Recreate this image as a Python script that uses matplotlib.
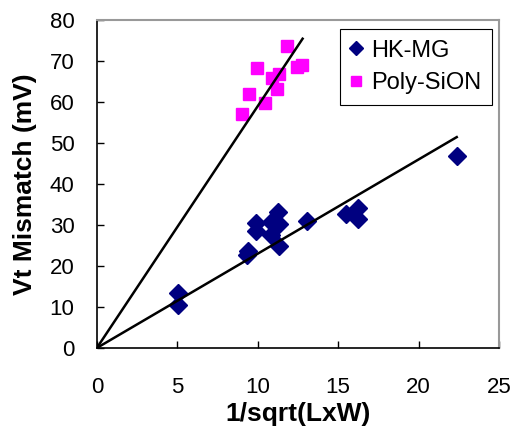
import numpy as np
import matplotlib as mpl
import matplotlib.pyplot as plt

mpl.rcParams["font.family"] = ["Liberation Sans", "DejaVu Sans"]

# HK-MG devices
hk_x = [5.02, 5.06, 9.41, 9.31, 9.89, 9.89, 10.8, 10.8, 11.28, 11.32, 11.32,
        13.04, 15.48, 16.25, 16.25, 22.37]
hk_y = [13.3, 10.5, 23.7, 22.7, 30.4, 28.6, 30.7, 27.6, 33.1, 30.2, 25.0,
        31.0, 32.6, 34.1, 31.4, 46.8]

# Poly-SiON devices
poly_x = [11.8, 9.93, 10.86, 11.32, 12.42, 12.73, 11.18, 9.45, 10.45, 9.04]
poly_y = [73.6, 68.4, 65.8, 66.8, 68.6, 69.0, 63.2, 62.0, 59.7, 57.2]

# Pelgrom fits through the origin (slope, x end)
hk_slope, hk_xend = 2.30, 22.37
poly_slope, poly_xend = 5.90, 12.79

fig = plt.figure(figsize=(5.15, 4.28), dpi=100)
ax = fig.add_axes([0.188, 0.187, 0.781, 0.766])

for slope, xend in [(hk_slope, hk_xend), (poly_slope, poly_xend)]:
    xs = np.array([0, xend])
    ax.plot(xs, slope * xs, color="black", lw=1.8, zorder=3)

ax.plot(hk_x, hk_y, ls="None", marker="D", ms=9.5, color="#000080",
        mec="#000080", label="HK-MG", zorder=2)
ax.plot(poly_x, poly_y, ls="None", marker="s", ms=8.5, color="#FF00FF",
        mec="#FF00FF", label="Poly-SiON", zorder=2)

ax.set_xlim(0, 25)
ax.set_ylim(0, 80)
ax.set_xticks(np.arange(0, 26, 5))
ax.set_yticks(np.arange(0, 81, 10))
ax.tick_params(direction="in", length=5, width=1, labelsize=16)
ax.tick_params(axis="y", pad=16)
ax.tick_params(axis="x", pad=21)

for side in ["top", "right"]:
    ax.spines[side].set_color("#999999")
    ax.spines[side].set_linewidth(1.5)
for side in ["left", "bottom"]:
    ax.spines[side].set_color("black")
    ax.spines[side].set_linewidth(1.2)

ax.set_xlabel("1/sqrt(LxW)", fontsize=19, fontweight="bold", labelpad=3)
ax.set_ylabel("Vt Mismatch (mV)", fontsize=19, fontweight="bold", labelpad=9)

leg = ax.legend(loc="upper right", bbox_to_anchor=(0.983, 0.973),
                fontsize=17, frameon=True, fancybox=False, framealpha=1,
                edgecolor="black", handlelength=0.5, handletextpad=0.4,
                borderpad=0.45, labelspacing=0.45, markerscale=0.8,
                borderaxespad=0)
leg.get_frame().set_linewidth(0.8)

fig.savefig("out.png", dpi=100)
